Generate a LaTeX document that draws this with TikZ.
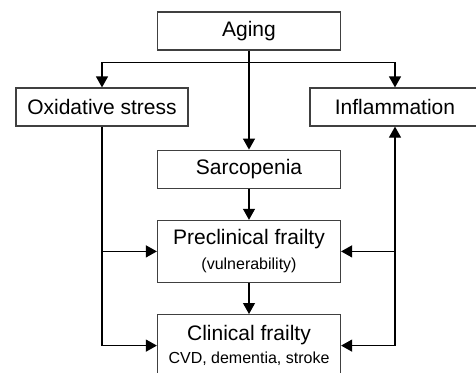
\documentclass[tikz,border=0pt]{standalone}
\usepackage{fontspec}
\setmainfont{Liberation Sans}
\usetikzlibrary{positioning,arrows.meta}

\begin{document}
\begin{tikzpicture}[x=1pt, y=-1pt, node distance=31pt, >={Triangle[length=11pt,width=12pt]}, line width=1.2pt]
  \tikzstyle{box} = [rectangle, draw=black!75, inner sep=0pt, minimum height=38pt, align=center, font=\fontsize{21}{25}\selectfont]
  \tikzstyle{wide} = [box, minimum width=183pt]

  \useasboundingbox (0,0) rectangle (476,372);
  \clip (0,0) rectangle (476,372);

  \node[wide] (aging) at (249,31) {Aging};
  \node[box, minimum width=172pt] (oxi) at (102,107) {Oxidative stress};
  \node[box, minimum width=170pt] (infl) at (395,107) {Inflammation};
  \node[wide, below=99pt of aging] (sarco) {Sarcopenia};
  \node[wide, below=of sarco, minimum height=62pt] (pre) {Preclinical frailty\\{\fontsize{16}{19}\selectfont (vulnerability)}};
  \node[wide, below=of pre, minimum height=62pt] (clin) {Clinical frailty\\[-2pt]{\fontsize{16}{19}\selectfont CVD, dementia, stroke}};

  \coordinate (split) at ([yshift=-12pt]aging.south);

  \draw[->] (aging) -- (sarco);
  \draw[->] (split) -| (oxi);
  \draw[->] (split) -| (infl);
  \draw[->] (sarco) -- (pre);
  \draw[->] (pre) -- (clin);

  \draw[->] (oxi) |- (clin);
  \draw[->] (oxi |- pre) -- (pre);
  \draw[<->] (infl) |- (clin);
  \draw[->] (infl |- pre) -- (pre);

\end{tikzpicture}
\end{document}
